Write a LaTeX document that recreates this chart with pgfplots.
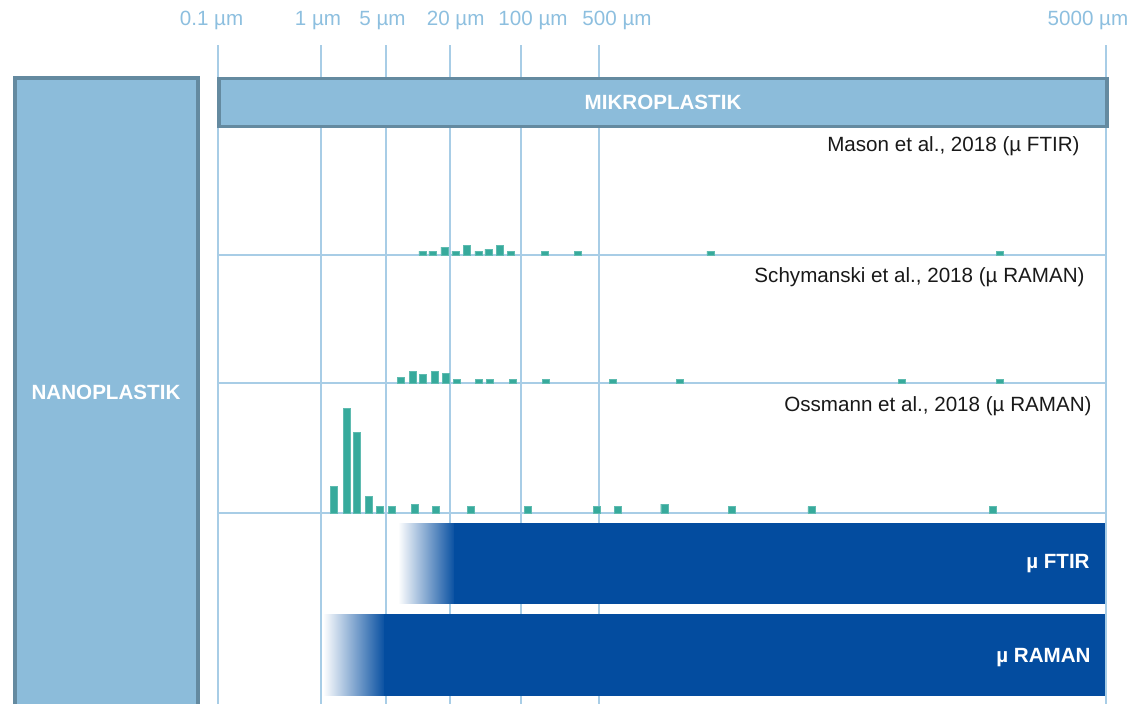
\documentclass[border=0pt]{standalone}
\usepackage{pgfplots}
\usepackage{pgfplotstable}
\pgfplotsset{compat=1.18}
\usepackage{fontspec}
\setmainfont{Liberation Sans}
\definecolor{gridc}{HTML}{A8CDE6}
\definecolor{boxfill}{HTML}{8CBCDA}
\definecolor{boxedge}{HTML}{648AA0}
\definecolor{teal2}{HTML}{37AA9C}
\definecolor{dblue}{HTML}{034C9F}
\definecolor{tickc}{HTML}{8DBFDF}
\newcommand{\fs}{\fontsize{10.3}{12}\selectfont}

% histogram data: x position (pixel scale), bar height (pixel scale)
\pgfplotstableread{
x h
422.5 4
432.5 4
444.5 8
455.5 4
467 10
478.5 4
488.5 6
500 10
511 4
545 4
578 4
710.5 4
1000 4
}\mason
\pgfplotstableread{
x h
400.7 6
412.7 12
422.7 8.5
434.7 12
446 10
456.7 4
478.8 4
489.7 4
512.7 4
546 4
612.7 4
679.7 3.5
902 4
1000 4
}\schym
\pgfplotstableread{
x h
333.7 26.6
346.7 105
356.7 81
368.7 16.6
379.7 6.6
391.7 6.6
414.7 9
435.7 6.6
470.7 6.6
528 6.6
596.7 6.6
617.7 6.6
664.3 9
731.8 6.6
811.4 6.6
992.7 6.6
}\ossm

\pgfplotsset{histax/.style={
  scale only axis, width=444pt, height=60pt,
  xmin=218, xmax=1106, ymin=0, ymax=120,
  hide axis, anchor=south west,
  ybar, bar width=3.6pt, bar shift=0pt,
}}

\begin{document}
\begin{tikzpicture}
\begin{axis}[
  at={(0,0)}, anchor=south west,
  scale only axis, width=567pt, height=352pt,
  xmin=0, xmax=1134, ymin=0, ymax=704,
  axis line style={draw=none}, major tick length=0pt,
  ytick=\empty,
  xtick={211.6,318,382.5,455.7,533,617,1088},
  xticklabels={0.1 µm,1 µm,5 µm,20 µm,100 µm,500 µm,5000 µm},
  xticklabel pos=upper,
  xticklabel style={anchor=base, yshift=-12.5pt, font=\fs, text=tickc, inner sep=0pt},
  clip=false,
]
% grid lines
\foreach \gx in {218,321,386,450,521,599,1106}{
  \edef\tmp{\noexpand\draw[gridc, line width=1pt] (axis cs:\gx,659) -- (axis cs:\gx,0);}\tmp
}
\foreach \gy in {449,321,191}{
  \edef\tmp{\noexpand\draw[gridc, line width=1pt] (axis cs:218,\gy) -- (axis cs:1106,\gy);}\tmp
}
% category boxes
\addplot[draw=boxedge, fill=boxfill, line width=1.7pt, mark=none, forget plot]
  coordinates {(15,0) (15,626) (198,626) (198,0)};
\addplot[draw=boxedge, fill=boxfill, line width=1.6pt, mark=none, forget plot]
  coordinates {(219,626) (1107,626) (1107,578) (219,578)} -- cycle;
\node[font=\fs\bfseries, text=white] at (axis cs:663,602) {MIKROPLASTIK};
\node[font=\fs\bfseries, text=white] at (axis cs:106,312) {NANOPLASTIK};
% method ranges
\addplot[draw=none, left color=white, right color=dblue, mark=none, forget plot]
  coordinates {(398,101) (456,101) (456,180.5) (398,180.5)} -- cycle;
\addplot[draw=none, fill=dblue, mark=none, forget plot]
  coordinates {(454,100) (1105,100) (1105,181) (454,181)} -- cycle;
\addplot[draw=none, left color=white, right color=dblue, mark=none, forget plot]
  coordinates {(323,9) (386,9) (386,89.5) (323,89.5)} -- cycle;
\addplot[draw=none, fill=dblue, mark=none, forget plot]
  coordinates {(384,8) (1105,8) (1105,90) (384,90)} -- cycle;
\node[font=\fs\bfseries, text=white, anchor=base east, inner sep=0pt] at (axis cs:1090,136) {µ FTIR};
\node[font=\fs\bfseries, text=white, anchor=base east, inner sep=0pt] at (axis cs:1091,42) {µ RAMAN};
% study labels
\node[font=\fs, text=black!90, anchor=base east, inner sep=0pt] at (axis cs:1080,553) {Mason et al., 2018 (µ FTIR)};
\node[font=\fs, text=black!90, anchor=base east, inner sep=0pt] at (axis cs:1085,422) {Schymanski et al., 2018 (µ RAMAN)};
\node[font=\fs, text=black!90, anchor=base east, inner sep=0pt] at (axis cs:1092,293) {Ossmann et al., 2018 (µ RAMAN)};
\end{axis}

\begin{axis}[histax, at={(109pt,224.5pt)}]
\addplot[fill=teal2, draw=teal2!80!white, line width=0.2pt] table[x=x, y=h] {\mason};
\end{axis}
\begin{axis}[histax, at={(109pt,160.5pt)}]
\addplot[fill=teal2, draw=teal2!80!white, line width=0.2pt] table[x=x, y=h] {\schym};
\end{axis}
\begin{axis}[histax, at={(109pt,95.5pt)}]
\addplot[fill=teal2, draw=teal2!80!white, line width=0.2pt] table[x=x, y=h] {\ossm};
\end{axis}
\end{tikzpicture}
\end{document}
